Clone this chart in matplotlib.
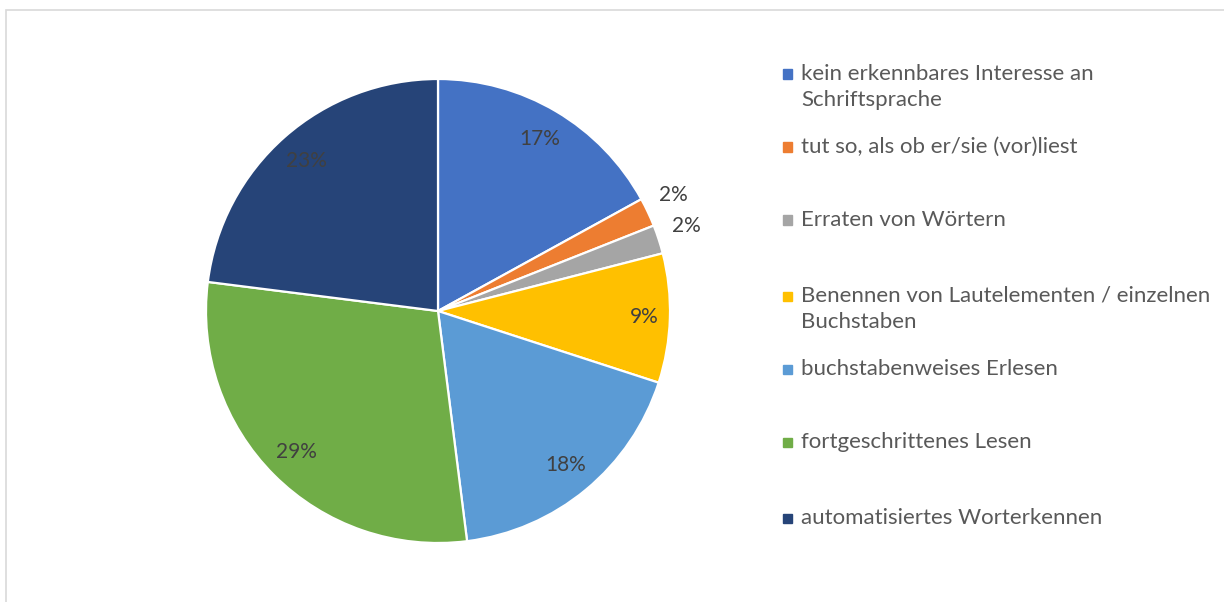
import numpy as np
import matplotlib
matplotlib.use("Agg")
import matplotlib.pyplot as plt
from matplotlib.patches import Rectangle

plt.rcParams['font.family'] = ['Lato', 'DejaVu Sans']

# data
categories = [
    "kein erkennbares Interesse an\nSchriftsprache",
    "tut so, als ob er/sie (vor)liest",
    "Erraten von Wörtern",
    "Benennen von Lautelementen / einzelnen\nBuchstaben",
    "buchstabenweises Erlesen",
    "fortgeschrittenes Lesen",
    "automatisiertes Worterkennen",
]
shares = [17, 2, 2, 9, 18, 29, 23]
colors = ["#4472C4", "#ED7D31", "#A5A5A5", "#FFC000", "#5B9BD5", "#70AD47", "#264478"]

W, H = 1224, 602
fig = plt.figure(figsize=(W / 100, H / 100), dpi=100)

# light chart-area frame (only left and top edges visible)
fig.patches.append(Rectangle((6 / W, -0.1), 1.2, (H - 10) / H + 0.1,
                             transform=fig.transFigure, fill=False,
                             edgecolor="#d9d9d9", linewidth=1.2))

cx, cy, r = 438, 311, 232
ax = fig.add_axes([(cx - r) / W, (H - cy - r) / H, 2 * r / W, 2 * r / H])
wedges, _ = ax.pie(shares, colors=colors, startangle=90, counterclock=False,
                   radius=1, wedgeprops=dict(edgecolor="white", linewidth=1.6))
ax.set_xlim(-1, 1)
ax.set_ylim(-1, 1)
ax.set_aspect("equal")
ax.axis("off")

# percentage labels
for w, v in zip(wedges, shares):
    mid = np.deg2rad((w.theta1 + w.theta2) / 2)
    if v < 5:
        mid += np.deg2rad(1.0)
        d = 1.13
    else:
        d = 0.89 if v < 12 else 0.86
    ax.text(d * np.cos(mid), d * np.sin(mid), f"{v}%", ha="center", va="center",
            fontsize=15, color="#404040")

# legend, placed like the Excel layout
first_line_y = [74, 147, 220, 296, 369, 442, 518]
for lab, col, y in zip(categories, colors, first_line_y):
    fig.patches.append(Rectangle(((788 - 4.5) / W, (H - y - 4.5) / H), 9 / W, 9 / H,
                                 transform=fig.transFigure, color=col))
    fig.text(801 / W, (H - y + 10) / H, lab, ha="left", va="top",
             fontsize=16, color="#595959", linespacing=1.35)

fig.savefig("out.png", dpi=100)
